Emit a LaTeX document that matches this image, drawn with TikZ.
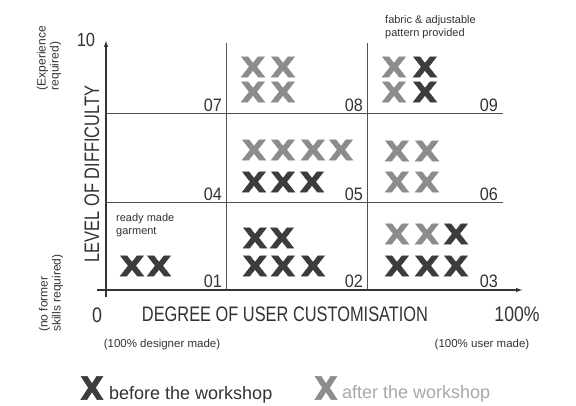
\documentclass[tikz,border=0pt]{standalone}
\usepackage{fontspec}
\setmainfont{Liberation Sans}
\newfontfamily\xfont{DejaVu Sans Bold}[FakeBold=1.8]
\usetikzlibrary{arrows.meta}
\definecolor{ink}{HTML}{333333}
\definecolor{dk}{HTML}{3C3C3C}
\definecolor{lt}{HTML}{8C8C8C}
\definecolor{ltxt}{HTML}{A8A8A8}
\newcommand{\cnd}[2][0.78]{\scalebox{#1}[1]{#2}}
\begin{document}
\begin{tikzpicture}[x=1pt,y=-1pt,
 axis/.style={draw=ink, line width=1.3pt, -{Latex[length=7pt,width=4.5pt]}},
 gridline/.style={draw=ink!85, line width=1pt},
 xd/.style={text=dk, font=\fontsize{28}{28}\xfont, inner sep=0pt},
 xl/.style={xd, text=lt},
 num/.style={text=ink, font=\fontsize{18}{18}\selectfont, inner sep=0pt, anchor=south east},
 lab/.style={text=ink, inner sep=0pt},
 small/.style={text=ink, font=\fontsize{11}{13}\selectfont, inner sep=0pt, align=left},
 side/.style={text=ink, font=\fontsize{12}{13}\selectfont, inner sep=0pt, align=left, rotate=90},
]
\useasboundingbox (0,0) rectangle (576,406);
\fill[white] (0,0) rectangle (576,406);
% axes
\coordinate (xs) at (97,290); \coordinate (xe) at (523,290);
\coordinate (ys) at (106,297); \coordinate (ye) at (106,40);
\draw[axis] (xs) -- (xe);
\draw[axis] (ys) -- (ye);
% grid
\coordinate (h1s) at (106,114); \coordinate (h1e) at (503,114);
\coordinate (h2s) at (106,203); \coordinate (h2e) at (503,203);
\coordinate (v1s) at (226,43); \coordinate (v1e) at (226,290);
\coordinate (v2s) at (367,43); \coordinate (v2e) at (367,290);
\draw[gridline] (h1s) -- (h1e);
\draw[gridline] (h2s) -- (h2e);
\draw[gridline] (v1s) -- (v1e);
\draw[gridline] (v2s) -- (v2e);
% cell numbers
\node[num] (n07) at (222,112) {\cnd[0.9]{07}};
\node[num] (n08) at (363,112) {\cnd[0.9]{08}};
\node[num] (n09) at (498,112) {\cnd[0.9]{09}};
\node[num] (n04) at (222,201) {\cnd[0.9]{04}};
\node[num] (n05) at (363,201) {\cnd[0.9]{05}};
\node[num] (n06) at (498,201) {\cnd[0.9]{06}};
\node[num] (n01) at (222,288) {\cnd[0.9]{01}};
\node[num] (n02) at (363,288) {\cnd[0.9]{02}};
\node[num] (n03) at (498,288) {\cnd[0.9]{03}};
% dark X marks (before)
\foreach \n/\x/\y in {a/132/266, b/159/266,
  c/255/238, d/282/238, e/255/266, f/283/266, g/313/266,
  h/456/234, i/397/266, j/427/266, k/456/266,
  l/254/182, m/283/182, o/312/182,
  p/425/67, q/425/92}
  \node[xd] (xd\n) at (\x,\y) {\cnd[1.15]{X}};
% light X marks (after)
\foreach \n/\x/\y in {a/397/234, b/427/234,
  c/254/150, d/283/150, e/313/150, f/341/150,
  g/397/151, h/427/151, i/397/182, j/427/182,
  k/253/67, l/283/67, m/253/92, o/283/92,
  p/394/67, q/394/92}
  \node[xl] (xl\n) at (\x,\y) {\cnd[1.15]{X}};
% axis labels
\node[lab, font=\fontsize{19}{19}\selectfont] (ten) at (86,40) {\cnd[0.87]{10}};
\node[lab, font=\fontsize{21}{21}\selectfont] (zero) at (97,315) {\cnd[0.85]{0}};
\node[lab, font=\fontsize{21}{21}\selectfont] (xlab) at (285,314) {\cnd{DEGREE OF USER CUSTOMISATION}};
\node[lab, font=\fontsize{21}{21}\selectfont] (hund) at (517,314) {\cnd[0.84]{100\%}};
\node[lab, font=\fontsize{21}{21}\selectfont, rotate=90] (ylab) at (92,174) {\cnd{LEVEL OF DIFFICULTY}};
\node[side] (exp) at (49,58) {(Experience\\required)};
\node[side] (nof) at (51,293) {(no former\\skills required)};
\node[lab, font=\fontsize{11.5}{12}\selectfont] (dm) at (162,345) {(100\% designer made)};
\node[lab, font=\fontsize{11.5}{12}\selectfont] (um) at (482,345) {(100\% user made)};
% cell notes
\node[small, anchor=north west] (rm) at (116,213) {ready made\\garment};
\node[small, anchor=north west] (fab) at (385,15) {fabric \& adjustable\\pattern provided};
% legend
\node[xd, font=\fontsize{32}{32}\xfont] (legd) at (92,388) {\cnd[0.95]{X}};
\node[lab, anchor=base west, font=\fontsize{18}{18}\selectfont] (legdt) at (109,399) {before the workshop};
\node[xl, font=\fontsize{32}{32}\xfont] (legl) at (326,388) {\cnd[0.95]{X}};
\node[lab, anchor=base west, text=ltxt, font=\fontsize{18}{18}\selectfont] (leglt) at (342,398) {after the workshop};
\end{tikzpicture}
\end{document}
